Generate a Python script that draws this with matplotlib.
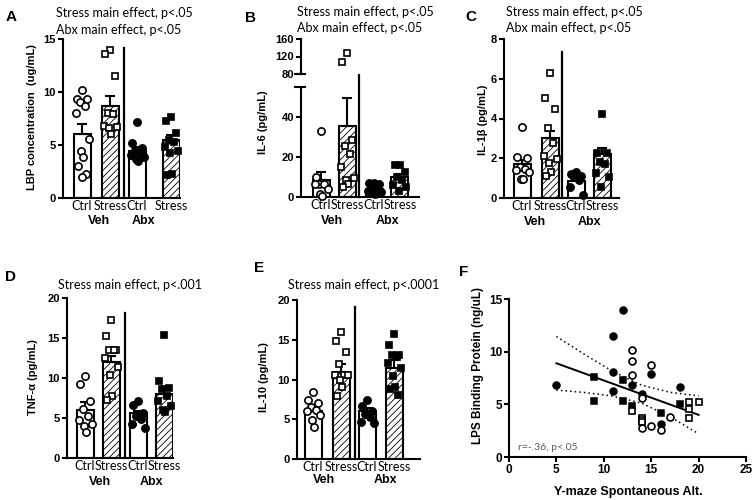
import matplotlib
matplotlib.use('Agg')
import matplotlib.pyplot as plt
import numpy as np

plt.rcParams['font.family'] = ['Liberation Sans', 'DejaVu Sans']
plt.rcParams['hatch.linewidth'] = 0.6

# ---------------- data ----------------
categories = ['Ctrl', 'Stress', 'Ctrl', 'Stress']
groups_lbl = ['Veh', 'Abx']

# Panel A: LBP concentration (ug/mL)
A_means = [6.0, 8.7, 4.4, 5.5]
A_sem = [1.0, 0.96, 0.45, 0.45]
A_veh_ctrl = [10.2, 9.3, 9.3, 9.1, 8.7, 8.0, 5.6, 4.4, 3.9, 3.0, 2.3, 2.0]
A_veh_stress = [14.0, 13.6, 11.5, 8.0, 7.9, 6.8, 6.7, 6.6, 6.0]
A_abx_ctrl = [7.2, 5.2, 4.7, 4.5, 4.3, 4.1, 3.9, 3.7, 3.5]
A_abx_stress = [7.6, 7.3, 6.1, 5.5, 5.3, 4.8, 4.4, 4.2, 2.3, 2.2]

# Panel B: IL-6 (pg/mL)
B_means = [8.3, 35.3, 4.0, 10.0]
B_sem = [4.2, 14.2, 0.8, 1.5]
B_veh_ctrl = [33, 10, 7, 6.3, 6.3, 6.3, 3.8, 1.3, 0.5]
B_veh_stress = [128, 108, 28.7, 25.5, 21.7, 15, 9.5, 8.3, 6.7, 5]
B_abx_ctrl = [7, 6.8, 6.5, 5, 4, 3, 2.5, 2, 1.5]
B_abx_stress = [15.8, 15.8, 12.5, 10, 8.3, 6, 5, 3]

# Panel C: IL-1beta (pg/mL)
C_means = [1.7, 3.03, 0.84, 2.2]
C_sem = [0.22, 0.35, 0.15, 0.3]
C_veh_ctrl = [3.55, 2.07, 2.0, 1.57, 1.48, 1.4, 1.3, 0.94, 0.94]
C_veh_stress = [6.3, 5.05, 4.46, 3.54, 2.78, 2.12, 1.95, 1.78, 1.31, 1.09]
C_abx_ctrl = [1.3, 1.2, 1.1, 1.05, 0.9, 0.56, 0.13]
C_abx_stress = [4.22, 2.24, 2.24, 1.8, 1.7, 1.26, 1.06, 0.56]

# Panel D: TNF-alpha (pg/mL)
D_means = [6.04, 12.0, 5.6, 8.04]
D_sem = [0.92, 0.7, 0.3, 0.86]
D_veh_ctrl = [10.3, 9.2, 7.1, 6.1, 5.3, 4.8, 4.2, 3.96, 3.3]
D_veh_stress = [17.2, 15.2, 13.5, 13.5, 13.5, 12.5, 11.4, 10.4, 7.7, 7.3]
D_abx_ctrl = [7.1, 6.6, 5.6, 5.2, 4.9, 4.2, 3.75]
D_abx_stress = [15.4, 9.6, 8.8, 8.6, 7.7, 7.1, 6.5, 6.0, 5.8]

# Panel E: IL-10 (pg/mL)
E_means = [5.98, 10.9, 6.07, 11.5]
E_sem = [0.6, 1.1, 0.35, 1.0]
E_veh_ctrl = [8.4, 7.4, 7.0, 6.6, 6.2, 6.0, 5.5, 4.9, 4.0]
E_veh_stress = [16.0, 14.9, 13.4, 12.0, 10.6, 10.6, 10.6, 9.9, 9.0, 7.9]
E_abx_ctrl = [7.4, 6.7, 6.1, 5.7, 5.3, 4.6, 4.5]
E_abx_stress = [15.7, 14.3, 13.1, 13.1, 12.8, 12.1, 11.4, 10.4, 9.1, 8.8, 8.1]

# Panel F: scatter LBP vs Y-maze
F_fc_x = [5, 12, 11, 11, 11, 13, 14, 15, 18, 16]
F_fc_y = [6.8, 14.0, 11.5, 8.04, 6.23, 6.8, 6.0, 7.9, 6.6, 3.16]
F_fs_x = [9, 9, 12, 12, 13, 16, 18]
F_fs_y = [7.56, 5.28, 7.28, 5.28, 4.84, 4.2, 5.06]
F_os_x = [13, 14, 14, 14, 19, 19, 19, 20]
F_os_y = [4.4, 3.7, 3.5, 3.3, 5.2, 4.56, 3.7, 5.2]
F_oc_x = [13, 13, 13, 14, 15, 14, 15, 16, 17]
F_oc_y = [10.2, 9.15, 7.75, 5.57, 8.77, 2.72, 2.94, 2.6, 3.77]
F_fit_x = [5, 20]
F_fit_y = [8.9, 4.0]
F_band_x = [5, 8, 11, 14, 17, 20]
F_band_hi = [11.44, 9.72, 8.10, 6.81, 6.14, 5.80]
F_band_lo = [6.36, 6.12, 5.78, 5.11, 3.82, 2.20]

# ---------------- layout helpers ----------------
W, H = 753, 500
fig = plt.figure(figsize=(W / 100, H / 100), dpi=100)


def add_ax(l, t, r, b):
    return fig.add_axes([l / W, 1 - b / H, (r - l) / W, (b - t) / H])


def ftext(x, y, s, **kw):
    fig.text(x / W, 1 - y / H, s, **kw)


TICKFONT = dict(family=['Liberation Sans', 'DejaVu Sans'], weight='bold', size=8)
CATFONT = dict(family=['Lato', 'DejaVu Sans'], size=9)
TITLEFONT = dict(family=['Lato', 'DejaVu Sans'], size=9)
LETTERFONT = dict(family=['Liberation Sans', 'DejaVu Sans'], weight='bold', size=11)
YLFONT = dict(family=['Liberation Sans', 'DejaVu Sans'], weight='bold', size=8)
GRPFONT = dict(family=['Liberation Sans', 'DejaVu Sans'], weight='bold', size=9)

JIT = [0, -5, 5, -2.5, 2.5, -6.5, 6.5, -1, 1, -4, 4, 0]

STYLES = [
    dict(hatch=None, marker='o', mfc='white', ms=5.2),
    dict(hatch='/////', marker='s', mfc='white', ms=4.8),
    dict(hatch=None, marker='o', mfc='black', ms=5.2),
    dict(hatch='/////', marker='s', mfc='black', ms=4.8),
]


def style_axes(ax, yticks):
    for s in ['top', 'right']:
        ax.spines[s].set_visible(False)
    for s in ['left', 'bottom']:
        ax.spines[s].set_linewidth(1.5)
    ax.set_yticks(yticks)
    ax.set_yticklabels([str(t) for t in yticks], **TICKFONT)
    ax.tick_params(axis='y', length=3.5, width=1.5, pad=1.5)


def draw_bars(axes_list, centers, means, sems, groups, width=17):
    for ax in axes_list:
        lo, hi = ax.get_ylim()
        for i in range(4):
            st = STYLES[i]
            ax.bar(centers[i], means[i], width=width, color='white', edgecolor='black',
                   linewidth=1.5, hatch=st['hatch'], zorder=2)
            ax.errorbar(centers[i], means[i], yerr=[[0], [sems[i]]], color='black',
                        elinewidth=1.5, capsize=3.6, capthick=1.5, zorder=3)
            xs_all = [centers[i] + JIT[k % len(JIT)] for k in range(len(groups[i]))]
            keep = [j for j in range(len(groups[i])) if lo - 1e-9 <= groups[i][j] <= hi]
            xs = [xs_all[j] for j in keep]
            vals = [groups[i][j] for j in keep]
            ax.plot(xs, vals, ls='none', marker=st['marker'], ms=st['ms'], mfc=st['mfc'],
                    mec='black', mew=1.2, zorder=4, clip_on=False)


def bar_panel(box, centers, means, sems, groups, ylim, yticks, div_x, div_top, xmax):
    ax = add_ax(*box)
    ax.set_xlim(0, xmax)
    ax.set_ylim(*ylim)
    style_axes(ax, yticks)
    ax.set_xticks(centers)
    ax.set_xticklabels(categories, **CATFONT)
    ax.tick_params(axis='x', length=0, pad=1.5)
    draw_bars([ax], centers, means, sems, groups)
    ax.plot([div_x, div_x], [0, div_top], color='black', lw=1.6, clip_on=False, zorder=3)
    return ax


# ---------------- Panel A ----------------
axA = bar_panel((63, 39, 180, 198), [19, 47, 74, 108], A_means, A_sem,
                [A_veh_ctrl, A_veh_stress, A_abx_ctrl, A_abx_stress],
                (0, 15), [0, 5, 10, 15], 61, 14.15, 117)
ftext(11, 17, 'A', ha='center', va='center', **LETTERFONT)
ftext(56, 13, 'Stress main effect, p<.05', ha='left', va='center', **TITLEFONT)
ftext(56, 30, 'Abx main effect, p<.05', ha='left', va='center', **TITLEFONT)
ftext(32, 117, 'LBP concentration  (ug/mL)', rotation=90, ha='center', va='center', **YLFONT)
ftext(99, 221, 'Veh', ha='center', va='center', **GRPFONT)
ftext(144, 221, 'Abx', ha='center', va='center', **GRPFONT)

# ---------------- Panel B (broken axis) ----------------
B_groups = [B_veh_ctrl, B_veh_stress, B_abx_ctrl, B_abx_stress]
B_centers = [20, 46, 73, 99]
axBl = add_ax(301, 87, 419, 197)
axBl.set_xlim(0, 118)
axBl.set_ylim(0, 55)
style_axes(axBl, [0, 20, 40])
axBl.set_xticks(B_centers)
axBl.set_xticklabels(categories, **CATFONT)
axBl.tick_params(axis='x', length=0, pad=1.5)
axBu = add_ax(301, 39, 419, 74)
axBu.set_xlim(0, 118)
axBu.set_ylim(80, 160)
style_axes(axBu, [80, 120, 160])
axBu.spines['bottom'].set_visible(False)
axBu.set_xticks([])
draw_bars([axBl, axBu], B_centers, B_means, B_sem, B_groups)
axBl.plot([58, 58], [0, 73.2], color='black', lw=1.6, clip_on=False, zorder=3)
axBl.plot([-6 / 118, 4 / 118], [55, 55], color='black', lw=1.5, clip_on=False,
          transform=axBl.get_yaxis_transform())
axBu.plot([-6 / 118, 4 / 118], [80, 80], color='black', lw=1.5, clip_on=False,
          transform=axBu.get_yaxis_transform())
ftext(250, 18, 'B', ha='center', va='center', **LETTERFONT)
ftext(297, 12, 'Stress main effect, p<.05', ha='left', va='center', **TITLEFONT)
ftext(297, 28, 'Abx main effect, p<.05', ha='left', va='center', **TITLEFONT)
ftext(263, 122, 'IL-6 (pg/mL)', rotation=90, ha='center', va='center', **YLFONT)
ftext(332, 221, 'Veh', ha='center', va='center', **GRPFONT)
ftext(387, 221, 'Abx', ha='center', va='center', **GRPFONT)

# ---------------- Panel C ----------------
axC = bar_panel((504, 39, 619, 198), [18, 46, 72, 98], C_means, C_sem,
                [C_veh_ctrl, C_veh_stress, C_abx_ctrl, C_abx_stress],
                (0, 8), [0, 2, 4, 6, 8], 58, 7.35, 115)
ftext(471, 17, 'C', ha='center', va='center', **LETTERFONT)
ftext(506, 12, 'Stress main effect, p<.05', ha='left', va='center', **TITLEFONT)
ftext(506, 28, 'Abx main effect, p<.05', ha='left', va='center', **TITLEFONT)
ftext(483, 120, 'IL-1β (pg/mL)', rotation=90, ha='center', va='center', **YLFONT)
ftext(535, 222, 'Veh', ha='center', va='center', **GRPFONT)
ftext(589, 222, 'Abx', ha='center', va='center', **GRPFONT)

# ---------------- Panel D ----------------
axD = bar_panel((67, 298, 173, 458), [18, 44, 71, 97], D_means, D_sem,
                [D_veh_ctrl, D_veh_stress, D_abx_ctrl, D_abx_stress],
                (0, 20), [0, 5, 10, 15, 20], 58, 18.1, 106)
ftext(11, 277, 'D', ha='center', va='center', **LETTERFONT)
ftext(58, 285, 'Stress main effect, p<.001', ha='left', va='center', **TITLEFONT)
ftext(33, 377, 'TNF-α (pg/mL)', rotation=90, ha='center', va='center', **YLFONT)
ftext(100, 482, 'Veh', ha='center', va='center', **GRPFONT)
ftext(151, 482, 'Abx', ha='center', va='center', **GRPFONT)

# ---------------- Panel E ----------------
axE = bar_panel((297, 300, 420, 459), [16, 44, 70, 97], E_means, E_sem,
                [E_veh_ctrl, E_veh_stress, E_abx_ctrl, E_abx_stress],
                (0, 20), [0, 5, 10, 15, 20], 58, 19.1, 123)
ftext(259, 268, 'E', ha='center', va='center', **LETTERFONT)
ftext(288, 285, 'Stress main effect, p<.0001', ha='left', va='center', **TITLEFONT)
ftext(264, 377, 'IL-10 (pg/mL)', rotation=90, ha='center', va='center', **YLFONT)
ftext(324, 480, 'Veh', ha='center', va='center', **GRPFONT)
ftext(385, 480, 'Abx', ha='center', va='center', **GRPFONT)

# ---------------- Panel F ----------------
axF = add_ax(509, 299, 746, 457)
axF.set_xlim(0, 25)
axF.set_ylim(0, 15)
for s in ['top', 'right']:
    axF.spines[s].set_visible(False)
for s in ['left', 'bottom']:
    axF.spines[s].set_linewidth(1.5)
axF.set_xticks([0, 5, 10, 15, 20, 25])
axF.set_xticklabels(['0', '5', '10', '15', '20', '25'], **dict(TICKFONT, size=8.5))
axF.set_yticks([0, 5, 10, 15])
axF.set_yticklabels(['0', '5', '10', '15'], **dict(TICKFONT, size=8.5))
axF.tick_params(length=3.5, width=1.5, pad=1.5)
axF.plot(F_band_x, F_band_hi, color='black', lw=1.1, ls=(0, (1, 2)), zorder=2)
axF.plot(F_band_x, F_band_lo, color='black', lw=1.1, ls=(0, (1, 2)), zorder=2)
axF.plot(F_fit_x, F_fit_y, color='black', lw=1.4, zorder=2)
axF.plot(F_fc_x, F_fc_y, ls='none', marker='o', ms=5, mfc='black', mec='black', mew=1.1, zorder=3)
axF.plot(F_fs_x, F_fs_y, ls='none', marker='s', ms=4.6, mfc='black', mec='black', mew=1.1, zorder=3)
axF.plot(F_os_x, F_os_y, ls='none', marker='s', ms=4.6, mfc='white', mec='black', mew=1.2, zorder=4)
axF.plot(F_oc_x, F_oc_y, ls='none', marker='o', ms=5, mfc='white', mec='black', mew=1.2, zorder=4)
axF.text(1.0, 0.9, 'r=-.36, p<.05', color='#595959', ha='left', va='center',
         family=['Lato', 'DejaVu Sans'], size=7.5)
ftext(464, 272, 'F', ha='center', va='center', **LETTERFONT)
ftext(478, 365, 'LPS Binding Protein (ng/uL)', rotation=90, ha='center', va='center',
      family=['Liberation Sans'], weight='bold', size=8.5)
ftext(628, 492, 'Y-maze Spontaneous Alt.', ha='center', va='center',
      family=['Liberation Sans'], weight='bold', size=9)

fig.savefig('out.png', dpi=100)
